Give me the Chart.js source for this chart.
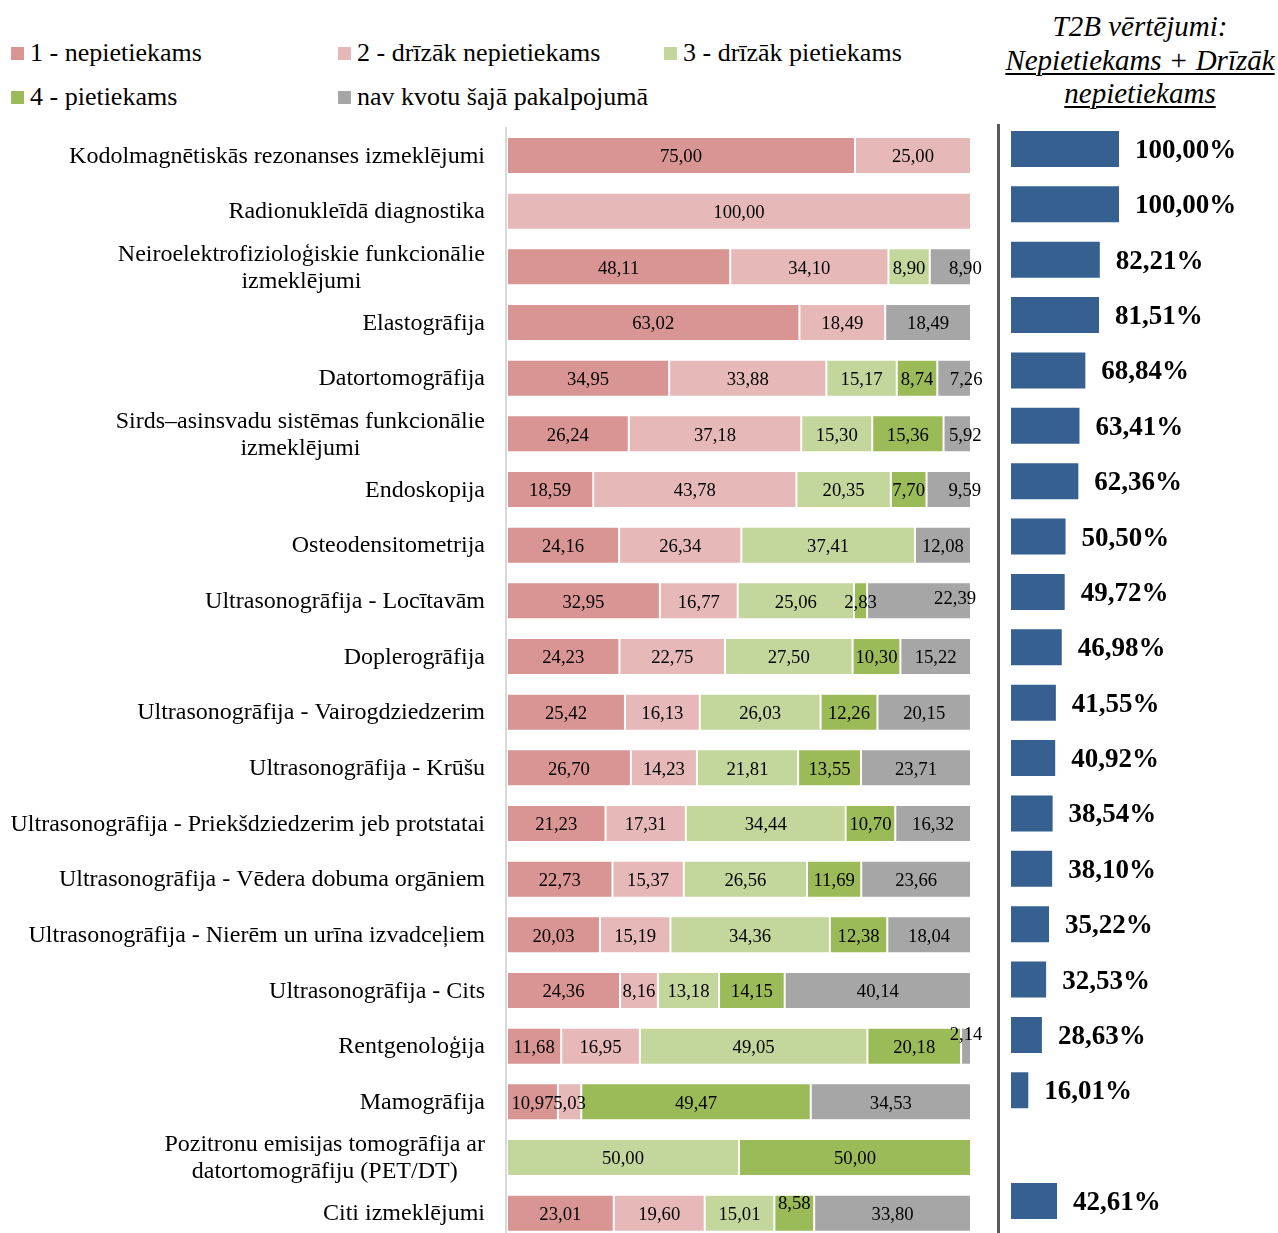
<!DOCTYPE html>
<html>
<head>
<meta charset="utf-8">
<script src="https://cdn.jsdelivr.net/npm/chart.js@4/dist/chart.umd.min.js"></script>
<style>
  html, body { margin:0; padding:0; background:#fff; overflow:hidden; width:1278px; height:1233px; }
  #wrapL { position:absolute; left:0; top:0; width:990px; height:1242px; }
  #wrapR { position:absolute; left:990px; top:0; width:288px; height:1233px; }
  .lg { position:absolute; height:30px; display:flex; align-items:center; font-family:"Liberation Serif","Times New Roman",serif; font-size:26px; color:#000; white-space:nowrap; }
  .lg i { display:inline-block; width:13px; height:13px; margin-right:6px; }
  #title { position:absolute; left:990px; top:10px; width:300px; text-align:center; font-family:"Liberation Serif","Times New Roman",serif; font-style:italic; font-size:29px; line-height:33.5px; color:#000; white-space:nowrap; }
  #title u { text-decoration-thickness:1.5px; text-underline-offset:3px; }
</style>
</head>
<body>
<div id="legend"></div>
<div id="title">T2B vērtējumi:<br><u>Nepietiekams + Drīzāk</u><br><u>nepietiekams</u></div>
<div id="wrapL"><canvas id="cL" width="990" height="1242"></canvas></div>
<div id="wrapR"><canvas id="cR" width="288" height="1233"></canvas></div>
<script>
// ---------------- DATA ----------------
const CATEGORIES = [
  "Kodolmagnētiskās rezonanses izmeklējumi",
  "Radionukleīdā diagnostika",
  ["Neiroelektrofizioloģiskie funkcionālie", "izmeklējumi"],
  "Elastogrāfija",
  "Datortomogrāfija",
  ["Sirds–asinsvadu sistēmas funkcionālie", "izmeklējumi"],
  "Endoskopija",
  "Osteodensitometrija",
  "Ultrasonogrāfija - Locītavām",
  "Doplerogrāfija",
  "Ultrasonogrāfija - Vairogdziedzerim",
  "Ultrasonogrāfija - Krūšu",
  "Ultrasonogrāfija - Priekšdziedzerim jeb protstatai",
  "Ultrasonogrāfija - Vēdera dobuma orgāniem",
  "Ultrasonogrāfija - Nierēm un urīna izvadceļiem",
  "Ultrasonogrāfija - Cits",
  "Rentgenoloģija",
  "Mamogrāfija",
  ["Pozitronu emisijas tomogrāfija ar", "datortomogrāfiju (PET/DT)"],
  "Citi izmeklējumi"
];
const SERIES_NAMES = ["1 - nepietiekams", "2 - drīzāk nepietiekams", "3 - drīzāk pietiekams", "4 - pietiekams", "nav kvotu šajā pakalpojumā"];
const S1_NEPIETIEKAMS = [75.00, null, 48.11, 63.02, 34.95, 26.24, 18.59, 24.16, 32.95, 24.23, 25.42, 26.70, 21.23, 22.73, 20.03, 24.36, 11.68, 10.97, null, 23.01];
const S2_DRIZAK_NEPIETIEKAMS = [25.00, 100.00, 34.10, 18.49, 33.88, 37.18, 43.78, 26.34, 16.77, 22.75, 16.13, 14.23, 17.31, 15.37, 15.19, 8.16, 16.95, 5.03, null, 19.60];
const S3_DRIZAK_PIETIEKAMS = [null, null, 8.90, null, 15.17, 15.30, 20.35, 37.41, 25.06, 27.50, 26.03, 21.81, 34.44, 26.56, 34.36, 13.18, 49.05, null, 50.00, 15.01];
const S4_PIETIEKAMS = [null, null, null, null, 8.74, 15.36, 7.70, null, 2.83, 10.30, 12.26, 13.55, 10.70, 11.69, 12.38, 14.15, 20.18, 49.47, 50.00, 8.58];
const S5_NAV_KVOTU = [null, null, 8.90, 18.49, 7.26, 5.92, 9.59, 12.08, 22.39, 15.22, 20.15, 23.71, 16.32, 23.66, 18.04, 40.14, 2.14, 34.53, null, 33.80];
const T2B = [100.00, 100.00, 82.21, 81.51, 68.84, 63.41, 62.36, 50.50, 49.72, 46.98, 41.55, 40.92, 38.54, 38.10, 35.22, 32.53, 28.63, 16.01, null, 42.61];

// ---------------- STYLE ----------------
const COLORS = ["#D99594", "#E6B9B8", "#C3D69B", "#9BBB59", "#A6A6A6"];
const T2B_COLOR = "#35608F";
const SERIF = '"Liberation Serif","Times New Roman",serif';
// label nudges (dx, dy) for crowded labels, keyed "category-series"
const LABEL_NUDGE = { "2-4":[15,0], "4-4":[12,0], "5-4":[8,0], "6-4":[16,0], "8-4":[36,-4], "16-4":[0,-13], "19-3":[0,-11] };

const fmt = v => v.toFixed(2).replace('.', ',');

// legend (HTML)
(function(){
  const pos = [[11,38],[338,38],[664,38],[11,82],[338,82]];
  const lg = document.getElementById('legend');
  SERIES_NAMES.forEach((n,i)=>{
    const d = document.createElement('div');
    d.className = 'lg';
    d.style.left = pos[i][0] + 'px';
    d.style.top = pos[i][1] + 'px';
    d.innerHTML = '<i style="background:' + COLORS[i] + '"></i>';
    d.appendChild(document.createTextNode(n));
    lg.appendChild(d);
  });
})();

const seriesData = [S1_NEPIETIEKAMS, S2_DRIZAK_NEPIETIEKAMS, S3_DRIZAK_PIETIEKAMS, S4_PIETIEKAMS, S5_NAV_KVOTU];

const leftPlugin = {
  id: 'leftDeco',
  beforeDatasetsDraw(chart) {
    const ctx = chart.ctx, a = chart.chartArea;
    ctx.save();
    ctx.strokeStyle = '#D9D9D9';
    ctx.lineWidth = 2;
    ctx.beginPath();
    ctx.moveTo(a.left - 1, 127);
    ctx.lineTo(a.left - 1, 1242);
    ctx.stroke();
    ctx.restore();
  },
  afterDatasetsDraw(chart) {
    const ctx = chart.ctx, a = chart.chartArea;
    const yScale = chart.scales.y;
    ctx.save();
    ctx.fillStyle = '#000';
    ctx.font = '24px ' + SERIF;
    ctx.textBaseline = 'middle';
    const rightX = a.left - 22;
    CATEGORIES.forEach((lab, i) => {
      const y = yScale.getPixelForValue(i) + 1;
      if (Array.isArray(lab)) {
        const w = Math.max(...lab.map(l => ctx.measureText(l).width));
        const cx = rightX - w / 2;
        ctx.textAlign = 'center';
        const lh = 27;
        lab.forEach((l, k) => {
          ctx.fillText(l, cx, y + (k - (lab.length - 1) / 2) * lh);
        });
      } else {
        ctx.textAlign = 'right';
        ctx.fillText(lab, rightX, y);
      }
    });
    ctx.font = '18.7px ' + SERIF;
    ctx.textAlign = 'center';
    chart.data.datasets.forEach((ds, si) => {
      const meta = chart.getDatasetMeta(si);
      meta.data.forEach((el, ci) => {
        const v = ds.data[ci];
        if (v === null || v === undefined) return;
        const nd = LABEL_NUDGE[ci + '-' + si] || [0, 0];
        const cx = (el.x + el.base) / 2 + nd[0];
        ctx.fillText(fmt(v), cx, el.y + 2 + nd[1]);
      });
    });
    ctx.restore();
  }
};

new Chart(document.getElementById('cL'), {
  type: 'bar',
  data: {
    labels: CATEGORIES,
    datasets: seriesData.map((d, i) => ({
      label: SERIES_NAMES[i],
      data: d,
      backgroundColor: COLORS[i],
      borderColor: 'rgba(255,255,255,0.35)',
      borderWidth: 1,
      borderSkipped: false,
      barPercentage: 0.665,
      categoryPercentage: 1
    }))
  },
  options: {
    indexAxis: 'y',
    responsive: false,
    animation: false,
    devicePixelRatio: 1,
    layout: { padding: { left: 507, top: 127.7, right: 19, bottom: 1 } },
    scales: {
      x: { stacked: true, min: 0, max: 100, display: false },
      y: { stacked: true, display: false }
    },
    plugins: { legend: { display: false }, tooltip: { enabled: false } }
  },
  plugins: [leftPlugin]
});

const rightPlugin = {
  id: 'rightDeco',
  beforeDatasetsDraw(chart) {
    const ctx = chart.ctx;
    ctx.save();
    ctx.strokeStyle = '#595959';
    ctx.lineWidth = 3;
    ctx.beginPath();
    ctx.moveTo(8.5, 124);
    ctx.lineTo(8.5, 1233);
    ctx.stroke();
    ctx.restore();
  },
  afterDatasetsDraw(chart) {
    const ctx = chart.ctx;
    ctx.save();
    ctx.fillStyle = '#000';
    ctx.font = 'bold 27px ' + SERIF;
    ctx.textAlign = 'left';
    ctx.textBaseline = 'middle';
    const meta = chart.getDatasetMeta(0);
    meta.data.forEach((el, i) => {
      const v = T2B[i];
      if (v === null || v === undefined) return;
      ctx.fillText(fmt(v) + '%', el.x + 16, el.y + 2);
    });
    ctx.restore();
  }
};

new Chart(document.getElementById('cR'), {
  type: 'bar',
  data: {
    labels: CATEGORIES,
    datasets: [{
      label: 'T2B',
      data: T2B,
      backgroundColor: T2B_COLOR,
      borderWidth: 0,
      barPercentage: 0.65,
      categoryPercentage: 1,
      clip: false
    }]
  },
  options: {
    indexAxis: 'y',
    responsive: false,
    animation: false,
    devicePixelRatio: 1,
    layout: { padding: { left: 21, top: 121.3, right: 159, bottom: 4.3 } },
    scales: {
      x: { min: 0, max: 100, display: false },
      y: { display: false }
    },
    plugins: { legend: { display: false }, tooltip: { enabled: false } }
  },
  plugins: [rightPlugin]
});
</script>
</body>
</html>
